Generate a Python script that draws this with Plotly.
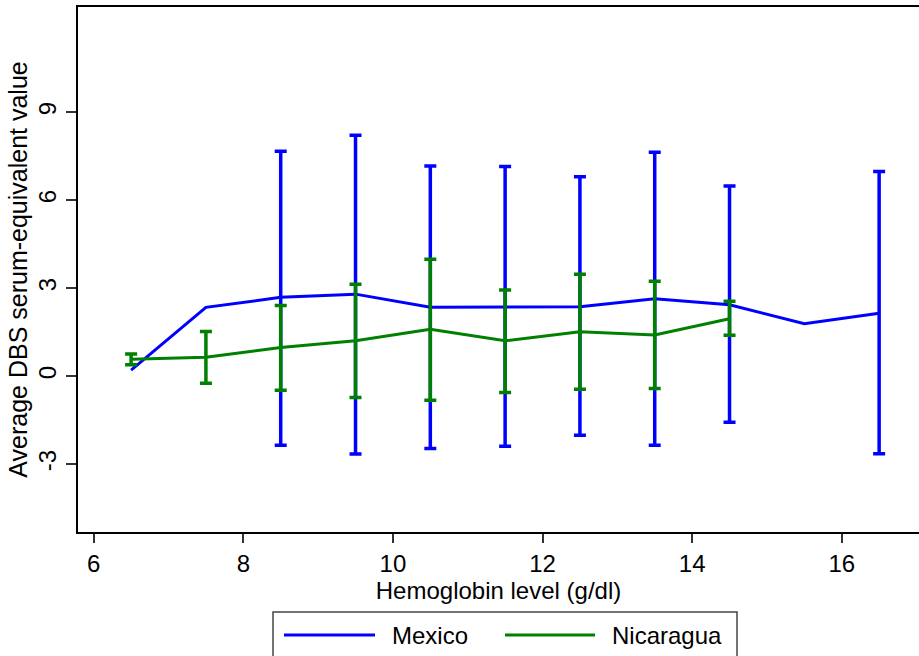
import plotly.graph_objects as go

# Data
mex_x = [6.5, 7.5, 8.5, 9.5, 10.5, 11.5, 12.5, 13.5, 14.5, 15.5, 16.5]
mex_y = [0.21, 2.35, 2.69, 2.80, 2.35, 2.37, 2.37, 2.64, 2.44, 1.79, 2.15]
mex_hi = [None, None, 7.67, 8.22, 7.17, 7.15, 6.80, 7.64, 6.49, None, 6.98]
mex_lo = [None, None, -2.35, -2.65, -2.46, -2.39, -2.01, -2.35, -1.57, None, -2.64]

nic_x = [6.5, 7.5, 8.5, 9.5, 10.5, 11.5, 12.5, 13.5, 14.5]
nic_y = [0.58, 0.65, 0.98, 1.21, 1.60, 1.21, 1.52, 1.41, 1.96]
nic_hi = [0.76, 1.53, 2.41, 3.14, 3.99, 2.94, 3.48, 3.24, 2.56]
nic_lo = [0.39, -0.24, -0.48, -0.72, -0.82, -0.55, -0.44, -0.42, 1.40]

x_ticks = [6, 8, 10, 12, 14, 16]
y_ticks = [-3, 0, 3, 6, 9]

series_names = ["Mexico", "Nicaragua"]
BLUE = "#0000FF"
GREEN = "#008000"
FONT = "Liberation Sans, Arial, sans-serif"

W, H = 919, 656
ML, MR, MT, MB = 78, 0, 7, 124
PW, PH = W - ML - MR, H - MT - MB


def err_subset(xs, ys, his, los):
    ex, ey, up, dn = [], [], [], []
    for x, y, h, l in zip(xs, ys, his, los):
        if h is None or l is None:
            continue
        ex.append(x)
        ey.append(y)
        up.append(h - y)
        dn.append(y - l)
    return ex, ey, up, dn


fig = go.Figure()

for name, xs, ys, his, los, col in [
    (series_names[0], mex_x, mex_y, mex_hi, mex_lo, BLUE),
    (series_names[1], nic_x, nic_y, nic_hi, nic_lo, GREEN),
]:
    fig.add_trace(go.Scatter(
        x=xs, y=ys, mode="lines", name=name, showlegend=False,
        line=dict(color=col, width=3),
    ))
    ex, ey, up, dn = err_subset(xs, ys, his, los)
    fig.add_trace(go.Scatter(
        x=ex, y=ey, mode="markers", showlegend=False, name=name,
        marker=dict(color=col, size=1, opacity=0),
        error_y=dict(type="data", symmetric=False, array=up, arrayminus=dn,
                     color=col, thickness=3.5, width=6),
        hoverinfo="skip",
    ))


# Legend box (drawn in paper coordinates, positioned below the plot)
def px_x(p):
    return (p - ML) / PW


def px_y(p):
    return (H - MB - p) / PH


shapes = [
    dict(type="rect", xref="paper", yref="paper",
         x0=px_x(273), x1=px_x(737), y0=px_y(612), y1=px_y(680),
         line=dict(color="#444444", width=1.5), fillcolor="white", layer="above"),
]
annotations = []
for (lx0, lx1, tx), name, col in zip([(284, 375, 390), (505, 595, 610)], series_names, [BLUE, GREEN]):
    shapes.append(dict(type="line", xref="paper", yref="paper",
                       x0=px_x(lx0), x1=px_x(lx1), y0=px_y(635), y1=px_y(635),
                       line=dict(color=col, width=3), layer="above"))
    annotations.append(dict(xref="paper", yref="paper", x=px_x(tx), y=px_y(635),
                            xanchor="left", yanchor="middle", showarrow=False,
                            text=name, font=dict(family=FONT, size=24, color="black")))

fig.update_layout(
    width=W, height=H,
    margin=dict(l=ML, r=MR, t=MT, b=MB),
    paper_bgcolor="white", plot_bgcolor="white",
    font=dict(family=FONT, size=24, color="black"),
    showlegend=False,
    shapes=shapes, annotations=annotations,
)

fig.update_xaxes(
    range=[5.79, 17.033], tickvals=x_ticks, ticktext=[str(v) for v in x_ticks],
    showgrid=False, zeroline=False,
    showline=True, linecolor="black", linewidth=2, mirror=True,
    ticks="outside", ticklen=9, tickwidth=1.5, tickcolor="#333333",
    tickfont=dict(family=FONT, size=24),
    title=dict(text="Hemoglobin level (g/dl)", font=dict(family=FONT, size=24), standoff=0),
)
fig.update_yaxes(
    range=[-5.31, 12.59], tickvals=y_ticks, ticktext=[str(v) for v in y_ticks],
    showgrid=False, zeroline=False,
    showline=True, linecolor="black", linewidth=2, mirror=False,
    ticks="outside", ticklen=10, tickwidth=1.5, tickcolor="#333333",
    tickangle=-90,
    tickfont=dict(family=FONT, size=24),
    title=dict(text="Average DBS serum-equivalent value", font=dict(family=FONT, size=25), standoff=0),
)

fig.write_html("out.html")
